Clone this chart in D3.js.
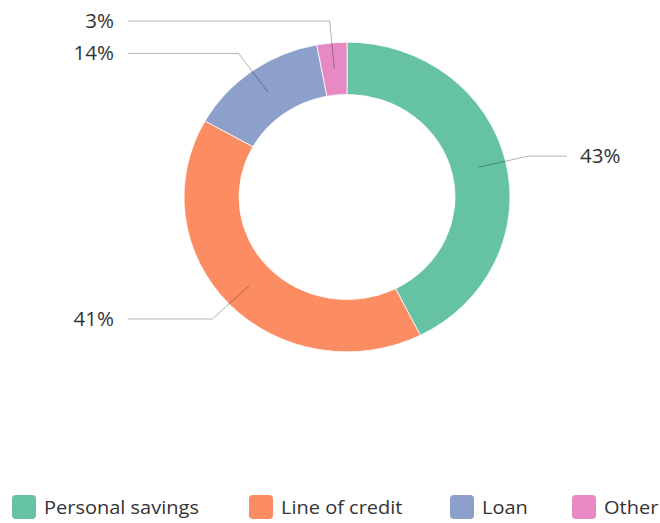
<!DOCTYPE html>
<html>
<head>
<meta charset="utf-8">
<script src="https://cdn.jsdelivr.net/npm/d3@7"></script>
<style>
    body { margin: 0; background: #fff; }
    text { font-family: "Open Sans", sans-serif; fill: #333; }
</style>
</head>
<body>
<svg width="660" height="523"></svg>
<script>
const categories = ["Personal savings", "Line of credit", "Loan", "Other"]
const values = [43, 41, 14, 3]
const colors = ["#66c2a5", "#fc8d62", "#8da0cb", "#e78ac3"]

const svg = d3.select("svg")
const cx = 347, cy = 197
const outer = 163, inner = 108
const squash = 0.95   // the picture is a little flatter than it is wide
const stretch = 1 / squash
const bendR = 186

const pie = d3.pie().sort(null).value(d => d.value)
const arcs = pie(categories.map((c, i) => ({name: c, value: values[i], color: colors[i]})))
const arc = d3.arc().innerRadius(inner).outerRadius(outer)

svg.append("g")
    .attr("transform", `translate(${cx},${cy}) scale(1,${squash})`)
    .selectAll("path")
    .data(arcs)
    .enter()
    .append("path")
    .attr("d", arc)
    .attr("fill", d => d.data.color)
    .attr("stroke", "#fff")
    .attr("stroke-width", 0.8)

// point on the ring at angle a and radius r, in page coordinates
const at = (a, r) => [cx + r * Math.sin(a), cy - r * Math.cos(a) * squash]

const labels = svg.append("g")
arcs.forEach(d => {
    const mid = (d.startAngle + d.endAngle) / 2
    const p0 = at(mid, (inner + outer) / 2)
    const p1 = at(mid, bendR)
    const right = Math.sin(mid) > 0
    const p2 = [right ? 567 : 128, p1[1]]
    labels.append("polyline")
        .attr("points", [p0, p1, p2].map(p => p.join(",")).join(" "))
        .attr("fill", "none")
        .attr("stroke", "#000")
        .attr("stroke-opacity", 0.3)
        .attr("stroke-width", 1)
    labels.append("text")
        .attr("transform", `translate(${right ? 580 : 114},${p1[1]}) scale(${stretch},1)`)
        .attr("dy", "0.35em")
        .attr("text-anchor", right ? "start" : "end")
        .attr("font-size", 19.5)
        .text(d.data.value + "%")
})

// legend
const legendX = [12, 249, 450, 572]
const legend = svg.append("g").attr("transform", "translate(0,507)")
categories.forEach((c, i) => {
    const g = legend.append("g").attr("transform", `translate(${legendX[i]},0)`)
    g.append("rect")
        .attr("x", 0).attr("y", -12)
        .attr("width", 24).attr("height", 24)
        .attr("rx", 4)
        .attr("fill", colors[i])
    g.append("text")
        .attr("transform", `translate(32,0) scale(${stretch},1)`)
        .attr("dy", "0.35em")
        .attr("font-size", 19)
        .attr("fill", "#444")
        .text(c)
})
</script>
</body>
</html>
